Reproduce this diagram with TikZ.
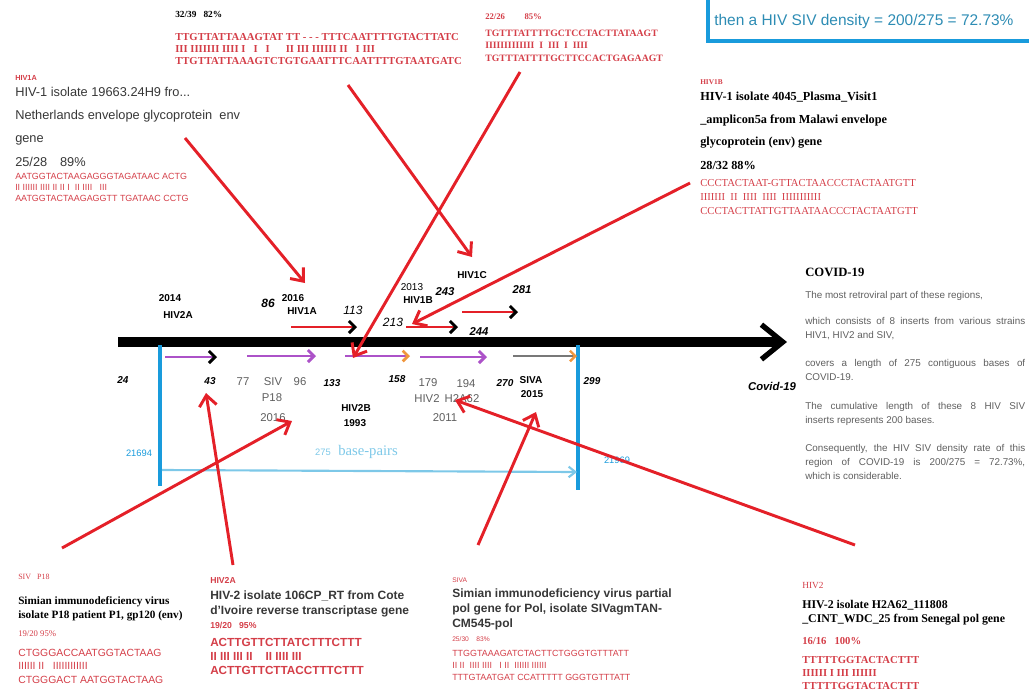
\documentclass[tikz,border=0pt]{standalone}
\usepackage{fontspec}
\setmainfont{Liberation Serif}
\setsansfont{Liberation Sans}
\usetikzlibrary{arrows.meta}
\definecolor{arrred}{RGB}{228,32,40}
\definecolor{seqred}{RGB}{212,62,72}
\definecolor{axblue}{RGB}{25,155,220}
\definecolor{lblue}{RGB}{125,200,232}
\definecolor{purp}{RGB}{172,82,200}
\definecolor{orng}{RGB}{240,150,60}
\definecolor{grayarr}{RGB}{120,120,120}
\definecolor{txtgray}{RGB}{55,55,55}
\definecolor{paragray}{RGB}{95,95,95}
\definecolor{boxtxt}{RGB}{45,140,180}
\tikzset{
  lbl/.style={inner sep=0pt, anchor=west},
  descS/.style={lbl, font=\sffamily\fontsize{9.6}{11}\selectfont, text=txtgray},
  descSB/.style={lbl, font=\sffamily\bfseries\fontsize{9}{10}\selectfont, text=txtgray},
  descR/.style={lbl, font=\bfseries\fontsize{9}{10}\selectfont, text=black},
  seqS/.style={lbl, font=\sffamily\fontsize{6.7}{8}\selectfont, text=seqred},
  seqSB/.style={lbl, font=\sffamily\bfseries\fontsize{8.8}{9}\selectfont, text=seqred},
  seqR/.style={lbl, font=\bfseries\fontsize{8}{9}\selectfont, text=seqred},
  tagR/.style={lbl, font=\bfseries\fontsize{5.5}{6}\selectfont, text=seqred},
  tagS/.style={lbl, font=\sffamily\bfseries\fontsize{5.5}{6}\selectfont, text=seqred},
  axb/.style={inner sep=0pt, font=\sffamily\bfseries\fontsize{7.5}{8}\selectfont},
  axi/.style={inner sep=0pt, font=\sffamily\bfseries\itshape\fontsize{7.5}{8}\selectfont},
  axg/.style={inner sep=0pt, font=\sffamily\fontsize{8.5}{9}\selectfont, text=paragray},
  para/.style={inner sep=0pt, anchor=north west, text width=165pt, align=justify,
     font=\sffamily\fontsize{7.4}{10.5}\selectfont, text=paragray},
  redarr/.style={draw=arrred, line width=2.2pt, -{Straight Barb[length=8pt,width=13pt]}},
  subarr/.style={line width=2.2pt, -{Straight Barb[length=4.5pt,width=9pt]}},
}
\begin{document}
\begin{tikzpicture}[x=0.75pt,y=-0.75pt]
\useasboundingbox (0,0) rectangle (1029,694);

% ---------- top box ----------
\draw[axblue, line width=3pt] (708,-10) -- (708,41) -- (1040,41);
\node[lbl, font=\sffamily\fontsize{11.6}{13}\selectfont, text=boxtxt] (dens) at (714,21) {then a HIV SIV density = 200/275 = 72.73\%};

% ---------- top-left block ----------
\node[tagS] (hiv1a) at (15,78) {HIV1A};
\node[descS] (d1a) at (15,92) {HIV-1 isolate 19663.24H9 fro...};
\node[descS] (d1b) at (15,116) {Netherlands envelope glycoprotein\ \ env};
\node[descS] (d1c) at (15,140) {gene};
\node[descS] (d1d) at (15,162) {25/28\quad 89\%};
\node[seqS] (s1a) at (15,176) {AATGGTACTAAGAGGGTAGATAAC ACTG};
\node[seqS] (s1b) at (15,187) {II IIIIII IIII II II I\ \ II IIII\ \ \ III};
\node[seqS] (s1c) at (15,198) {AATGGTACTAAGAGGTT TGATAAC CCTG};

% ---------- top-middle block ----------
\node[lbl, font=\bfseries\fontsize{7}{8}\selectfont] (m1) at (175,14) {32/39\ \ \ 82\%};
\node[seqR] (m2) at (175,37) {TTGTTATTAAAGTAT TT - - - TTTCAATTTTGTACTTATC};
\node[seqR] (m3) at (175,49) {III IIIIIII IIII I\ \ \ I\ \ \ I\ \ \ \ \ \ II III IIIIII II\ \ \ I III};
\node[seqR] (m4) at (175,61) {TTGTTATTAAAGTCTGTGAATTTCAATTTTGTAATGATC};

% ---------- top-middle-right block ----------
\node[lbl, font=\bfseries\fontsize{6.5}{7}\selectfont, text=seqred] (r1) at (485,17) {22/26\qquad\ 85\%};
\node[seqR, font=\bfseries\fontsize{7.3}{8}\selectfont] (r2) at (485,33) {TGTTTATTTTGCTCCTACTTATAAGT};
\node[seqR, font=\bfseries\fontsize{7.3}{8}\selectfont] (r3) at (485,45) {IIIIIIIIIIIII\ \ I\ \ III\ \ I\ \ IIII};
\node[seqR, font=\bfseries\fontsize{7.3}{8}\selectfont] (r4) at (485,58) {TGTTTATTTTGCTTCCACTGAGAAGT};

% ---------- HIV1B block ----------
\node[tagR] (hiv1b) at (700,82) {HIV1B};
\node[descR, font=\bfseries\fontsize{9.2}{10}\selectfont] (b1) at (700,97) {HIV-1 isolate 4045\_Plasma\_Visit1};
\node[descR, font=\bfseries\fontsize{9.2}{10}\selectfont] (b2) at (700,120) {\_amplicon5a from Malawi envelope};
\node[descR, font=\bfseries\fontsize{9.2}{10}\selectfont] (b3) at (700,143) {glycoprotein (env) gene};
\node[descR, font=\bfseries\fontsize{9.2}{10}\selectfont] (b4) at (700,165) {28/32 88\%};
\node[seqR, font=\fontsize{8}{9}\selectfont] (b5) at (700,183) {CCCTACTAAT-GTTACTAACCCTACTAATGTT};
\node[seqR, font=\fontsize{8}{9}\selectfont] (b6) at (700,197) {IIIIIII\ \ II\ \ IIII\ \ IIII\ \ IIIIIIIIIII};
\node[seqR, font=\fontsize{8}{9}\selectfont] (b7) at (700,211) {CCCTACTTATTGTTAATAACCCTACTAATGTT};

% ---------- right text ----------
\node[lbl, font=\bfseries\fontsize{9.5}{11}\selectfont] (cov) at (805,272) {COVID-19};
\node[para] (p1) at (805,291) {The most retroviral part of these regions,};
\node[para] (p2) at (805,317) {which consists of 8 inserts from various strains\linebreak HIV1, HIV2 and SIV,};
\node[para] (p3) at (805,359) {covers a length of 275 contiguous bases of\linebreak COVID-19.};
\node[para] (p4) at (805,402) {The cumulative length of these 8 HIV SIV\linebreak inserts represents 200 bases.};
\node[para] (p5) at (805,444) {Consequently, the HIV SIV density rate of this\linebreak region of COVID-19 is 200/275 = 72.73\%,\linebreak which is considerable.};

% ---------- main axis ----------
\coordinate (axL) at (118,342);
\coordinate (axR) at (787,342);
\draw[line width=7.5pt, -{Straight Barb[length=16pt,width=26pt,line width=4pt]}] (axL) -- (axR);
\node[axi, font=\sffamily\bfseries\itshape\fontsize{8.5}{9}\selectfont] (cv) at (772,386) {Covid-19};

% blue verticals and base-pair span
\coordinate (bl1) at (160,345); \coordinate (bl2) at (160,486);
\coordinate (br1) at (578,345); \coordinate (br2) at (578,490);
\draw[axblue, line width=3pt] (bl1) -- (bl2);
\draw[axblue, line width=3pt] (br1) -- (br2);
\coordinate (sp1) at (162,470); \coordinate (sp2) at (577,472);
\draw[lblue, line width=1.6pt, -{Straight Barb[length=5pt,width=8pt]}] (sp1) -- (sp2);
\node[inner sep=0pt, font=\sffamily\fontsize{7}{8}\selectfont, text=lblue] (n275) at (323,452) {275};
\node[inner sep=0pt, anchor=west, font=\fontsize{11}{12}\selectfont, text=lblue] (bp) at (338,452) {base-pairs};
\node[inner sep=0pt, font=\sffamily\fontsize{7}{8}\selectfont, text=axblue] (p21694) at (139,453) {21694};
\node[inner sep=0pt, font=\sffamily\fontsize{7}{8}\selectfont, text=axblue] (p21969) at (617,460) {21969};

% ---------- labels above axis ----------
\node[axb] (y2014) at (170,298) {2014};
\node[axb] (hiv2a) at (178,315) {HIV2A};
\node[axi, font=\sffamily\bfseries\itshape\fontsize{9}{10}\selectfont] (n86) at (268,303) {86};
\node[axb] (y2016) at (293,298) {2016};
\node[axb] (hiv1al) at (302,311) {HIV1A};
\node[axi, font=\sffamily\itshape\fontsize{9}{10}\selectfont] (n113) at (353,310) {113};
\node[axg, text=black, font=\sffamily\fontsize{7.5}{8}\selectfont] (y2013) at (412,287) {2013};
\node[axb] (hiv1bl) at (418,300) {HIV1B};
\node[axi, font=\sffamily\bfseries\itshape\fontsize{8.5}{9}\selectfont] (n243) at (445,292) {243};
\node[axb] (hiv1cl) at (472,275) {HIV1C};
\node[axi, font=\sffamily\bfseries\itshape\fontsize{8.5}{9}\selectfont] (n281) at (522,290) {281};
\node[axi, font=\sffamily\itshape\fontsize{9}{10}\selectfont] (n213) at (393,322) {213};
\node[axi, font=\sffamily\bfseries\itshape\fontsize{8.5}{9}\selectfont] (n244) at (479,332) {244};

% red insert arrows above axis
\coordinate (h1a) at (291,327); \coordinate (h1b) at (357,327);
\draw[subarr, arrred, -{Straight Barb[length=4.5pt,width=9pt,color=black]}] (h1a) -- (h1b);
\coordinate (h2a) at (406,327); \coordinate (h2b) at (458,327);
\draw[subarr, arrred, -{Straight Barb[length=4.5pt,width=9pt,color=black]}] (h2a) -- (h2b);
\coordinate (h3a) at (462,312); \coordinate (h3b) at (518,312);
\draw[subarr, arrred, -{Straight Barb[length=4.5pt,width=9pt,color=black]}] (h3a) -- (h3b);

% insert arrows below axis
\coordinate (q1a) at (165,357); \coordinate (q1b) at (217,357);
\draw[subarr, purp, -{Straight Barb[length=4.5pt,width=9pt,color=black]}] (q1a) -- (q1b);
\coordinate (q2a) at (247,356); \coordinate (q2b) at (316,356);
\draw[subarr, purp] (q2a) -- (q2b);
\coordinate (q3a) at (345,356); \coordinate (q3b) at (410,356);
\draw[subarr, purp, line width=2pt, -{Straight Barb[length=4pt,width=8pt,color=orng]}] (q3a) -- (q3b);
\coordinate (q4a) at (420,357); \coordinate (q4b) at (487,357);
\draw[subarr, purp] (q4a) -- (q4b);
\coordinate (q5a) at (513,356); \coordinate (q5b) at (577,356);
\draw[subarr, grayarr, line width=1.8pt, -{Straight Barb[length=4pt,width=8pt,color=orng]}] (q5a) -- (q5b);

% ---------- labels below axis ----------
\node[axi] (n24) at (123,380) {24};
\node[axi] (n43) at (210,381) {43};
\node[axg] (n77) at (243,382) {77};
\node[axg] (siv) at (273,382) {SIV};
\node[axg] (n96) at (300,382) {96};
\node[axi] (n133) at (332,383) {133};
\node[axi] (n158) at (397,379) {158};
\node[axg] (n179) at (428,383) {179};
\node[axg] (n194) at (466,384) {194};
\node[axi] (n270) at (505,383) {270};
\node[axb] (siva) at (531,380) {SIVA};
\node[axb] (y2015) at (532,394) {2015};
\node[axi] (n299) at (592,381) {299};
\node[axg] (p18) at (272,398) {P18};
\node[axg] (y2016b) at (273,418) {2016};
\node[axb] (hiv2b) at (356,408) {HIV2B};
\node[axb] (y1993) at (355,423) {1993};
\node[axg] (hiv2l) at (427,399) {HIV2};
\node[axg] (h2a62) at (462,399) {H2A62};
\node[axg] (y2011) at (445,418) {2011};

% ---------- bottom blocks ----------
% SIV P18
\node[tagR, font=\fontsize{6}{7}\selectfont] (sivt) at (18,577) {SIV\ \ \ P18};
\node[descR, font=\bfseries\fontsize{8.4}{10}\selectfont] (sv1) at (18,602) {Simian immunodeficiency virus};
\node[descR, font=\bfseries\fontsize{8.4}{10}\selectfont] (sv2) at (18,616) {isolate P18 patient P1, gp120 (env)};
\node[lbl, font=\fontsize{6.5}{7}\selectfont, text=seqred] (sv3) at (18,634) {19/20 95\%};
\node[seqS, font=\sffamily\fontsize{7.8}{9}\selectfont] (sv4) at (18,653) {CTGGGACCAATGGTACTAAG};
\node[seqS, font=\sffamily\fontsize{7.8}{9}\selectfont] (sv5) at (18,666) {IIIIII II\ \ \ IIIIIIIIIIII};
\node[seqS, font=\sffamily\fontsize{7.8}{9}\selectfont] (sv6) at (18,680) {CTGGGACT AATGGTACTAAG};

% HIV2A
\node[tagS, font=\sffamily\bfseries\fontsize{6.5}{7}\selectfont] (h2t) at (210,580) {HIV2A};
\node[descSB] (hv1) at (210,596) {HIV-2 isolate 106CP\_RT from Cote};
\node[descSB] (hv2) at (210,611) {d'Ivoire reverse transcriptase gene};
\node[seqSB, font=\sffamily\bfseries\fontsize{6.5}{7}\selectfont] (hv3) at (210,625) {19/20\ \ \ 95\%};
\node[seqSB] (hv4) at (210,642) {ACTTGTTCTTATCTTTCTTT};
\node[seqSB] (hv5) at (210,656) {II III III II\ \ \ \ II IIII III};
\node[seqSB] (hv6) at (210,670) {ACTTGTTCTTACCTTTCTTT};

% SIVA
\node[tagS, font=\sffamily\fontsize{5}{6}\selectfont] (svat) at (452,580) {SIVA};
\node[descSB] (sa1) at (452,594) {Simian immunodeficiency virus partial};
\node[descSB] (sa2) at (452,609) {pol gene for Pol, isolate SIVagmTAN-};
\node[descSB] (sa3) at (452,624) {CM545-pol};
\node[seqS, font=\sffamily\fontsize{5}{6}\selectfont] (sa4) at (452,639) {25/30\ \ \ \ 83\%};
\node[seqS] (sa5) at (452,653) {TTGGTAAAGATCTACTTCTGGGTGTTTATT};
\node[seqS] (sa6) at (452,665) {II II\ \ IIII IIII\ \ \ I II\ \ IIIIII IIIIII};
\node[seqS] (sa7) at (452,677) {TTTGTAATGAT CCATTTTT GGGTGTTTATT};

% HIV2
\node[lbl, font=\fontsize{7}{8}\selectfont, text=seqred] (h2tt) at (802,585) {HIV2};
\node[descR, font=\bfseries\fontsize{8.9}{10}\selectfont] (hw1) at (802,605) {HIV-2 isolate H2A62\_111808};
\node[descR, font=\bfseries\fontsize{8.9}{10}\selectfont] (hw2) at (802,620) {\_CINT\_WDC\_25 from Senegal pol gene};
\node[seqR] (hw3) at (802,641) {16/16\ \ \ 100\%};
\node[seqR] (hw4) at (802,660) {TTTTTGGTACTACTTT};
\node[seqR] (hw5) at (802,673) {IIIIII I III IIIIII};
\node[seqR] (hw6) at (802,686) {TTTTTGGTACTACTTT};

% ---------- long red pointer arrows ----------
\coordinate (a1s) at (185,138); \coordinate (a1e) at (305,283);
\coordinate (a2s) at (348,85);  \coordinate (a2e) at (472,257);
\coordinate (a3s) at (520,72);  \coordinate (a3e) at (353,358);
\coordinate (a4s) at (690,183); \coordinate (a4e) at (412,324);
\coordinate (a5s) at (62,548);  \coordinate (a5e) at (292,421);
\coordinate (a6s) at (233,565); \coordinate (a6e) at (206,393);
\coordinate (a7s) at (478,545); \coordinate (a7e) at (536,412);
\coordinate (a8s) at (855,545); \coordinate (a8e) at (455,400);
\foreach \i in {1,...,8} {\draw[redarr] (a\i s) -- (a\i e);}
\end{tikzpicture}
\end{document}
